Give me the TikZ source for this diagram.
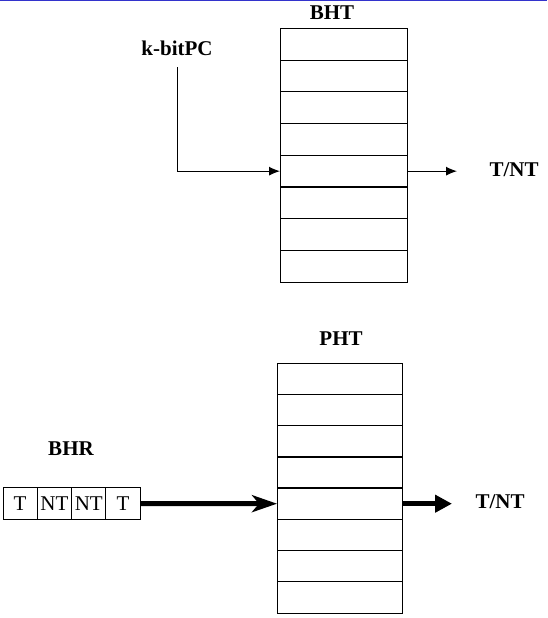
\documentclass[tikz,border=0pt]{standalone}
\usepackage{fontspec}
\setmainfont{Liberation Serif}
\usetikzlibrary{arrows.meta}
\definecolor{topline}{RGB}{51,51,204}
\begin{document}
\begin{tikzpicture}[x=1pt,y=-1pt,
  row/.style={draw,line width=1pt,minimum height=31.6pt,inner sep=0pt,outer sep=0pt},
  cell/.style={draw,line width=1pt,minimum width=34.3pt,minimum height=31.6pt,inner sep=0pt,outer sep=0pt,font=\fontsize{21}{24}\selectfont},
  lbl/.style={font=\fontsize{21}{24}\selectfont\bfseries,inner sep=0pt}]
\useasboundingbox (0,0) rectangle (547,618);
\draw[line width=1.5pt,topline] (0,0.75) -- (547,0.75);
\foreach \i in {1,...,8}
  \node[row,minimum width=127pt] (bht\i) at (343.5,{12.65+31.7*\i}) {};
\foreach \i in {1,...,8}
  \node[row,minimum width=125pt] (pht\i) at (339.5,{347.7+31.2*\i}) {};
\foreach \t [count=\i] in {T,NT,NT,T}
  \node[cell] (bhr\i) at ({3+34.3*(\i-0.5)},503.5) {\t};
\node[lbl] (bhtlbl) at (332,13) {BHT};
\node[lbl] (kpc) at (177,48.5) {k-bitPC};
\node[lbl] (bhtout) at (514,170) {T/NT};
\node[lbl] (phtlbl) at (341,339) {PHT};
\node[lbl] (bhrlbl) at (71,449) {BHR};
\node[lbl] (phtout) at (500,502) {T/NT};
\coordinate (bhtend) at ([xshift=50pt]bht5.east);
\coordinate (phtend) at ([xshift=50pt]pht5.east);
\draw[line width=1pt,shorten <=11pt,-{Latex[length=11pt,width=9pt]}] (kpc.south) |- (bht5.west);
\draw[line width=1pt,-{Latex[length=11pt,width=9pt]}] (bht5.east) -- (bhtend);
\draw[line width=5pt,-{Stealth[length=25pt,width=17pt,inset=7pt]}] (bhr4.east) -- (pht5.west);
\draw[line width=5pt,-{Triangle[length=17pt,width=17pt]}] (pht5.east) -- (phtend);
\end{tikzpicture}
\end{document}
